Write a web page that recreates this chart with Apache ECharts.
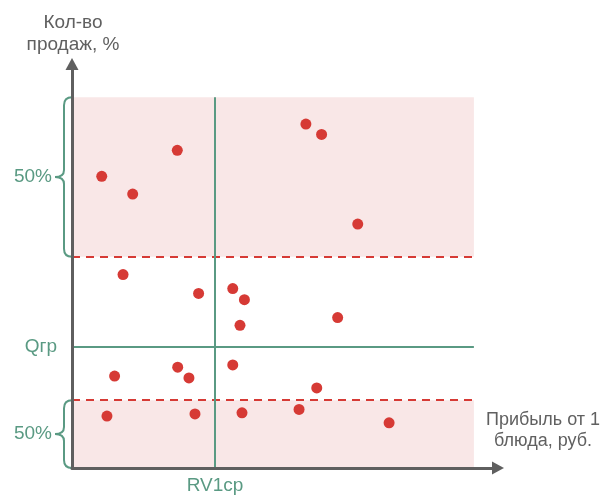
<!DOCTYPE html>
<html>
<head>
<meta charset="utf-8">
<script src="https://cdn.jsdelivr.net/npm/echarts@6/dist/echarts.min.js"></script>
<style>
  html, body { margin: 0; padding: 0; background: #fff; }
  #main { width: 604px; height: 498px; }
</style>
</head>
<body>
<div id="main"></div>
<script>
// dishes: profit per dish (x) and sales share (y)
var profitValues = [7.4, 15.1, 26.2, 58.2, 62.1, 71.1, 12.7, 31.5, 40.0, 42.9, 41.8,
    66.1, 10.6, 26.3, 29.1, 40.0, 60.9, 8.7, 30.6, 42.3, 56.5, 78.9];
var salesValues = [78.7, 73.9, 85.7, 92.8, 90.0, 65.8, 52.2, 47.1, 48.4, 45.4, 38.5,
    40.6, 24.8, 27.2, 24.3, 27.8, 21.6, 14.0, 14.6, 14.9, 15.8, 12.2];

// zone borders
var zoneRight = 100;
var zoneTop = 100;
var upperZoneBottom = 57;
var lowerZoneTop = 18.3;
var qGroup = 32.6;       // Qгр
var rvAverage = 35.6;    // RV1ср

var braceRanges = [[upperZoneBottom, zoneTop], [0, lowerZoneTop]];
var braceLabels = ['50%', '50%'];

var green = '#5a9a83';
var red = '#d63a35';
var pink = '#f9e7e7';
var axisGray = '#5f5f5f';
var titleGray = '#606060';
var fontFamily = '"Liberation Sans", Arial, sans-serif';

var points = [];
for (var i = 0; i < profitValues.length; i++) {
    points.push([profitValues[i], salesValues[i]]);
}

var braceData = [];
for (var i = 0; i < braceRanges.length; i++) {
    braceData.push([braceRanges[i][0], braceRanges[i][1], i]);
}

var myChart = echarts.init(document.getElementById('main'));

var option = {
    animation: false,
    grid: {
        left: 72,
        right: 106,
        top: 64,
        bottom: 30
    },
    xAxis: {
        type: 'value',
        min: 0,
        max: 106,
        z: 10,
        name: 'Прибыль от 1\nблюда, руб.',
        nameLocation: 'end',
        nameGap: 45,
        nameTextStyle: {
            color: titleGray,
            fontSize: 18,
            fontFamily: fontFamily,
            lineHeight: 21,
            align: 'center',
            verticalAlign: 'bottom',
            padding: [0, 0, 16, 0]
        },
        axisLine: {
            lineStyle: { color: axisGray, width: 3 },
            symbol: ['none', 'triangle'],
            symbolSize: [13, 12]
        },
        axisTick: { show: false },
        axisLabel: { show: false },
        splitLine: { show: false }
    },
    yAxis: {
        type: 'value',
        min: 0,
        max: 109,
        z: 10,
        name: 'Кол-во\nпродаж, %',
        nameLocation: 'end',
        nameGap: 8,
        nameTextStyle: {
            color: titleGray,
            fontSize: 19,
            fontFamily: fontFamily,
            lineHeight: 22,
            align: 'center',
            verticalAlign: 'bottom',
            padding: [0, 0, 0, 2]
        },
        axisLine: {
            lineStyle: { color: axisGray, width: 3 },
            symbol: ['none', 'triangle'],
            symbolSize: [13, 12]
        },
        axisTick: { show: false },
        axisLabel: { show: false },
        splitLine: { show: false }
    },
    series: [{
        name: 'Блюда',
        type: 'scatter',
        symbolSize: 11,
        itemStyle: { color: red, opacity: 1 },
        data: points,
        z: 3,
        markArea: {
            silent: true,
            itemStyle: { color: pink },
            data: [
                [{ coord: [0, upperZoneBottom] }, { coord: [zoneRight, zoneTop] }],
                [{ coord: [0, 0] }, { coord: [zoneRight, lowerZoneTop] }]
            ]
        },
        markLine: {
            silent: true,
            symbol: ['none', 'none'],
            animation: false,
            data: [
                [{
                    coord: [0, upperZoneBottom],
                    lineStyle: { color: red, type: [8, 6], width: 2 },
                    label: { show: false }
                }, { coord: [zoneRight, upperZoneBottom] }],
                [{
                    coord: [0, lowerZoneTop],
                    lineStyle: { color: red, type: [8, 6], width: 2 },
                    label: { show: false }
                }, { coord: [zoneRight, lowerZoneTop] }],
                [{
                    coord: [0, qGroup],
                    lineStyle: { color: green, type: 'solid', width: 2 },
                    label: {
                        show: true, position: 'start', formatter: 'Qгр', distance: 15,
                        color: green, fontSize: 19, fontFamily: fontFamily
                    }
                }, { coord: [zoneRight, qGroup] }],
                [{
                    coord: [rvAverage, 0],
                    lineStyle: { color: green, type: 'solid', width: 2 },
                    label: {
                        show: true, position: 'start', formatter: 'RV1ср', distance: 8,
                        color: green, fontSize: 19, fontFamily: fontFamily
                    }
                }, { coord: [rvAverage, zoneTop] }]
            ]
        }
    }, {
        // curly braces on the left of the y axis
        name: 'braces',
        type: 'custom',
        silent: true,
        clip: false,
        z: 4,
        data: braceData,
        renderItem: function (params, api) {
            var topPt = api.coord([0, api.value(1)]);
            var botPt = api.coord([0, api.value(0)]);
            var x0 = topPt[0];
            var xv = x0 - 8;
            var xt = x0 - 17;
            var t = topPt[1];
            var b = botPt[1];
            var mid = (t + b) / 2;
            var d = 'M' + x0 + ' ' + t +
                ' Q' + xv + ' ' + t + ' ' + xv + ' ' + (t + 8) +
                ' L' + xv + ' ' + (mid - 7) +
                ' Q' + xv + ' ' + mid + ' ' + xt + ' ' + mid +
                ' Q' + xv + ' ' + mid + ' ' + xv + ' ' + (mid + 7) +
                ' L' + xv + ' ' + (b - 8) +
                ' Q' + xv + ' ' + b + ' ' + x0 + ' ' + b;
            return {
                type: 'group',
                children: [{
                    type: 'path',
                    shape: { pathData: d },
                    style: { fill: 'none', stroke: green, lineWidth: 2 }
                }, {
                    type: 'text',
                    style: {
                        text: braceLabels[api.value(2)],
                        x: xt - 3,
                        y: mid,
                        align: 'right',
                        verticalAlign: 'middle',
                        fill: green,
                        font: '19px ' + fontFamily
                    }
                }]
            };
        }
    }]
};

myChart.setOption(option);
</script>
</body>
</html>
